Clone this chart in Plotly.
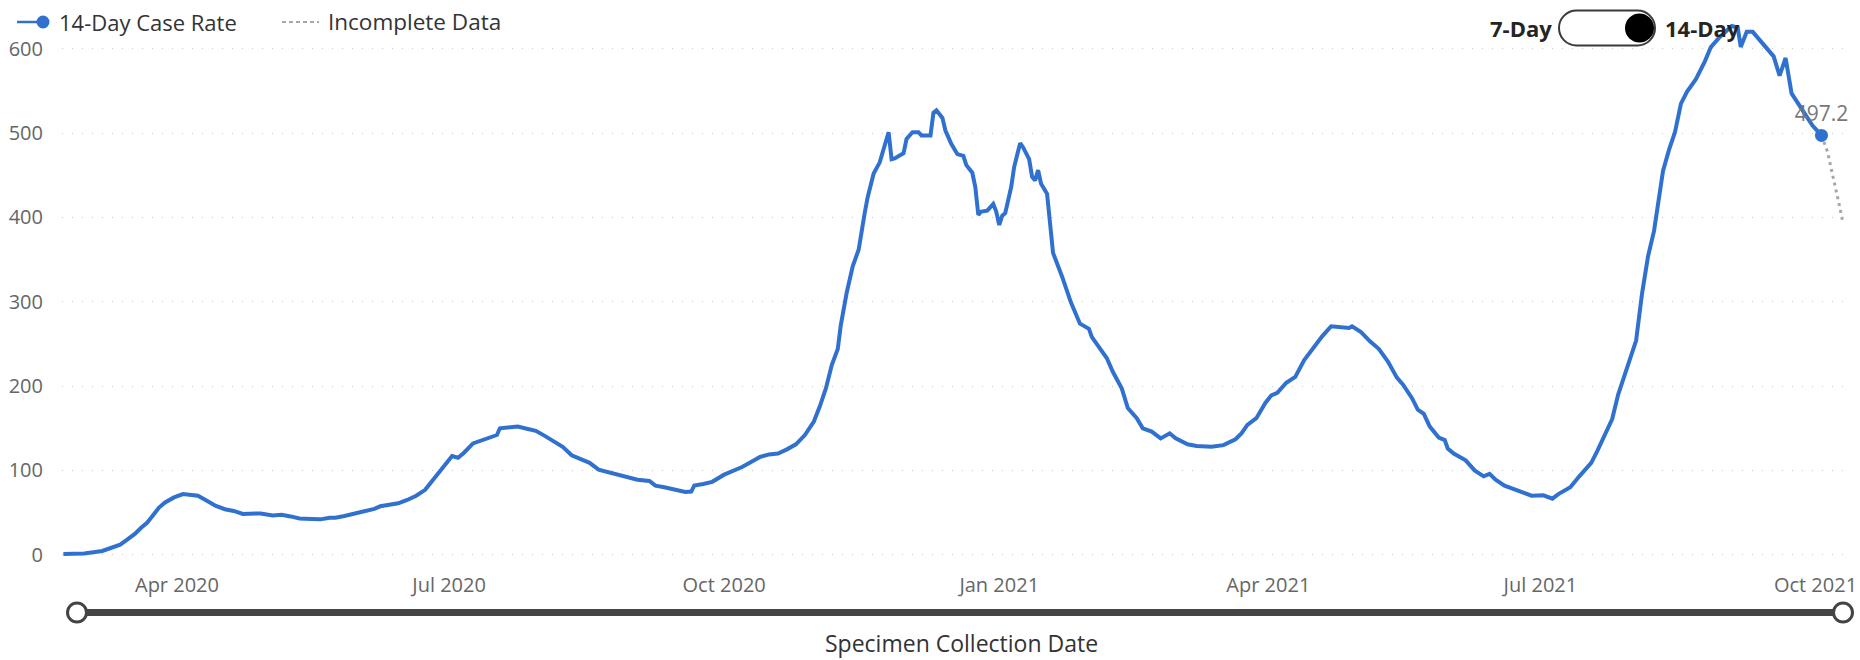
import plotly.graph_objects as go

# ---- 14-day case rate per 100k, by specimen collection date ----
dates = [
    "2020-02-23", "2020-03-01", "2020-03-07", "2020-03-10", "2020-03-13", "2020-03-15",
    "2020-03-18", "2020-03-20", "2020-03-22", "2020-03-24", "2020-03-26", "2020-03-28",
    "2020-03-31", "2020-04-03", "2020-04-06", "2020-04-08", "2020-04-11", "2020-04-14",
    "2020-04-17", "2020-04-20", "2020-04-23", "2020-04-26", "2020-04-29", "2020-05-03",
    "2020-05-06", "2020-05-09", "2020-05-12", "2020-05-16", "2020-05-19", "2020-05-22",
    "2020-05-24", "2020-05-27", "2020-05-31", "2020-06-03", "2020-06-06", "2020-06-08",
    "2020-06-11", "2020-06-14", "2020-06-17", "2020-06-20", "2020-06-23", "2020-06-26",
    "2020-06-29", "2020-07-02", "2020-07-04", "2020-07-06", "2020-07-09", "2020-07-12",
    "2020-07-15", "2020-07-17", "2020-07-18", "2020-07-21", "2020-07-24", "2020-07-27",
    "2020-07-30", "2020-08-02", "2020-08-05", "2020-08-08", "2020-08-11", "2020-08-14",
    "2020-08-17", "2020-08-20", "2020-08-24", "2020-08-29", "2020-09-02", "2020-09-06",
    "2020-09-08", "2020-09-11", "2020-09-14", "2020-09-18", "2020-09-20", "2020-09-21",
    "2020-09-24", "2020-09-27", "2020-10-01", "2020-10-04", "2020-10-07", "2020-10-10",
    "2020-10-13", "2020-10-16", "2020-10-19", "2020-10-22", "2020-10-25", "2020-10-28",
    "2020-10-31", "2020-11-02", "2020-11-04", "2020-11-06", "2020-11-08", "2020-11-09",
    "2020-11-11", "2020-11-13", "2020-11-15", "2020-11-17", "2020-11-18", "2020-11-20",
    "2020-11-22", "2020-11-25", "2020-11-26", "2020-11-27", "2020-11-30", "2020-12-01",
    "2020-12-03", "2020-12-05", "2020-12-06", "2020-12-09", "2020-12-10", "2020-12-11",
    "2020-12-13", "2020-12-14", "2020-12-16", "2020-12-18", "2020-12-20", "2020-12-21",
    "2020-12-23", "2020-12-24", "2020-12-25", "2020-12-26", "2020-12-28", "2020-12-30",
    "2020-12-31", "2021-01-01", "2021-01-02", "2021-01-03", "2021-01-04", "2021-01-05",
    "2021-01-06", "2021-01-08", "2021-01-09", "2021-01-11", "2021-01-12", "2021-01-13",
    "2021-01-14", "2021-01-15", "2021-01-17", "2021-01-18", "2021-01-19", "2021-01-22",
    "2021-01-23", "2021-01-25", "2021-01-28", "2021-01-31", "2021-02-01", "2021-02-04",
    "2021-02-06", "2021-02-08", "2021-02-11", "2021-02-13", "2021-02-16", "2021-02-18",
    "2021-02-21", "2021-02-24", "2021-02-27", "2021-03-01", "2021-03-05", "2021-03-08",
    "2021-03-13", "2021-03-17", "2021-03-21", "2021-03-23", "2021-03-25", "2021-03-28",
    "2021-03-31", "2021-04-02", "2021-04-04", "2021-04-07", "2021-04-10", "2021-04-13",
    "2021-04-16", "2021-04-19", "2021-04-22", "2021-04-25", "2021-04-28", "2021-04-29",
    "2021-05-02", "2021-05-05", "2021-05-08", "2021-05-11", "2021-05-14", "2021-05-16",
    "2021-05-19", "2021-05-21", "2021-05-23", "2021-05-25", "2021-05-28", "2021-05-30",
    "2021-05-31", "2021-06-02", "2021-06-06", "2021-06-09", "2021-06-12", "2021-06-14",
    "2021-06-16", "2021-06-19", "2021-06-24", "2021-06-28", "2021-07-02", "2021-07-05",
    "2021-07-07", "2021-07-11", "2021-07-14", "2021-07-18", "2021-07-20", "2021-07-23",
    "2021-07-25", "2021-07-27", "2021-07-29", "2021-08-02", "2021-08-04", "2021-08-06",
    "2021-08-08", "2021-08-11", "2021-08-13", "2021-08-15", "2021-08-17", "2021-08-19",
    "2021-08-22", "2021-08-25", "2021-08-27", "2021-08-30", "2021-09-03", "2021-09-05",
    "2021-09-06", "2021-09-08", "2021-09-10", "2021-09-13", "2021-09-15", "2021-09-17",
    "2021-09-19", "2021-09-21", "2021-09-23", "2021-09-27", "2021-09-30", "2021-10-03",
]
case_rate = [
    1, 1.5, 4.5, 8, 12, 17,
    25, 32, 38, 47, 56, 62,
    68, 72, 71.5, 70, 64, 58,
    54, 52, 48.5, 49, 49, 46.5,
    47.5, 45.5, 43, 42.5, 42, 44,
    44, 46, 49, 52, 54.5, 57.5,
    59, 61, 65, 70, 77, 90,
    104, 117, 115, 121, 132, 136,
    140, 142, 150, 151.5, 152, 149.5,
    147, 141, 134, 128, 118, 113,
    109, 101, 97, 92, 89, 87.5,
    82, 80, 78, 74.5, 75, 82,
    84, 86.5, 95, 99, 104, 110,
    116, 119, 120, 125, 131, 142,
    158, 176, 197, 225, 244, 272,
    311, 342, 362, 405, 424, 452,
    465, 501, 469, 470, 476, 493,
    501, 501, 497, 497, 524, 527,
    518, 503, 487, 475, 473, 462,
    453, 436, 403, 407, 408, 416,
    407, 391, 402, 405, 419, 436,
    460, 488, 483, 469, 448, 444,
    456, 440, 428, 393, 358, 330,
    319, 299, 274, 268, 258, 242,
    233, 217, 197, 174, 162, 150,
    146, 138, 144, 138, 131, 129,
    128, 130, 137, 144, 154, 162,
    180, 189, 192, 204, 211, 231,
    245, 259, 271, 270, 269, 271,
    264, 253, 244, 229, 210, 202,
    186, 172, 167, 152, 139, 136,
    126, 120, 112, 100, 93, 96,
    89, 82, 76, 70, 70.5, 66.5,
    72, 80, 93, 109, 123, 146,
    161, 190, 212, 254, 310, 354,
    384, 455, 480, 501, 535, 549,
    564, 585, 602, 614, 627, 625,
    602, 620, 620, 608, 600, 591,
    568, 589, 547, 526, 509, 497.2,
]

# most recent week, still being reported
incomplete_dates = ["2021-10-03", "2021-10-04", "2021-10-05", "2021-10-06",
                    "2021-10-07", "2021-10-08", "2021-10-09", "2021-10-10"]
incomplete_rate = [497.2, 488, 478, 462, 447, 430, 414, 397]

x_tick_dates = ["2020-04-01", "2020-07-01", "2020-10-01", "2021-01-01",
                "2021-04-01", "2021-07-01", "2021-10-01"]
x_tick_labels = ["Apr 2020", "Jul 2020", "Oct 2020", "Jan 2021",
                 "Apr 2021", "Jul 2021", "Oct 2021"]
y_ticks = [0, 100, 200, 300, 400, 500, 600]

BLUE = "#3071CF"
FONT = "Segoe UI, Open Sans, sans-serif"

W, H = 1860, 660
PL, PR, PT, PB = 62, 1852, 15, 559   # plot-area edges in pixels


def fx(px):
    return (px - PL) / (PR - PL)


def fy(py):
    return (PB - py) / (PB - PT)


fig = go.Figure()

fig.add_trace(go.Scatter(
    x=incomplete_dates, y=incomplete_rate, mode="lines",
    line=dict(color="#A6A6A6", width=3, dash="3px,4px"),
    showlegend=False, hoverinfo="skip",
))
fig.add_trace(go.Scatter(
    x=dates, y=case_rate, mode="lines",
    line=dict(color=BLUE, width=4), showlegend=False,
))
fig.add_trace(go.Scatter(
    x=[dates[-1]], y=[case_rate[-1]], mode="markers+text",
    marker=dict(color=BLUE, size=13),
    text=[f"{case_rate[-1]:.1f}"], textposition="top center",
    textfont=dict(family=FONT, size=21, color="#777777"),
    cliponaxis=False, showlegend=False,
))

shapes = []
annotations = []

# legend
shapes.append(dict(type="line", xref="paper", yref="paper",
                   x0=fx(17), x1=fx(40), y0=fy(22), y1=fy(22),
                   line=dict(color=BLUE, width=2.5)))
shapes.append(dict(type="circle", xref="paper", yref="paper",
                   x0=fx(36.5), x1=fx(49.5), y0=fy(15.5), y1=fy(28.5),
                   fillcolor=BLUE, line=dict(color=BLUE, width=0)))
annotations.append(dict(text="14-Day Case Rate", xref="paper", yref="paper",
                        x=fx(57), y=fy(22), xanchor="left", yanchor="middle",
                        showarrow=False, font=dict(family=FONT, size=22, color="#333333")))
shapes.append(dict(type="line", xref="paper", yref="paper",
                   x0=fx(282), x1=fx(319), y0=fy(22), y1=fy(22),
                   line=dict(color="#8C8C8C", width=1.5, dash="4px,3px")))
annotations.append(dict(text="Incomplete Data", xref="paper", yref="paper",
                        x=fx(326), y=fy(22), xanchor="left", yanchor="middle",
                        showarrow=False, font=dict(family=FONT, size=22.5, color="#333333")))

# 7-Day / 14-Day toggle
def pill_path(x0, x1, y0, y1):
    r = (y1 - y0) / 2
    k = 0.5523 * r
    pts = [
        ("M", [(x0 + r, y0)]),
        ("L", [(x1 - r, y0)]),
        ("C", [(x1 - r + k, y0), (x1, y0 + r - k), (x1, y0 + r)]),
        ("C", [(x1, y0 + r + k), (x1 - r + k, y1), (x1 - r, y1)]),
        ("L", [(x0 + r, y1)]),
        ("C", [(x0 + r - k, y1), (x0, y0 + r + k), (x0, y0 + r)]),
        ("C", [(x0, y0 + r - k), (x0 + r - k, y0), (x0 + r, y0)]),
    ]
    out = []
    for cmd, ps in pts:
        out.append(cmd + " ".join(f"{fx(a):.6f},{fy(b):.6f}" for a, b in ps))
    return " ".join(out) + " Z"


shapes.append(dict(type="path", xref="paper", yref="paper",
                   path=pill_path(1559, 1655, 10.5, 45.5),
                   fillcolor="white", line=dict(color="#3A3A3A", width=2)))
shapes.append(dict(type="circle", xref="paper", yref="paper",
                   x0=fx(1625), x1=fx(1654), y0=fy(13.5), y1=fy(42.5),
                   fillcolor="black", line=dict(color="black", width=0)))
annotations.append(dict(text="<b>7-Day</b>", xref="paper", yref="paper",
                        x=fx(1554), y=fy(28), xanchor="right", yanchor="middle",
                        showarrow=False, font=dict(family=FONT, size=22, color="#252423")))
annotations.append(dict(text="<b>14-Day</b>", xref="paper", yref="paper",
                        x=fx(1663), y=fy(28), xanchor="left", yanchor="middle",
                        showarrow=False, font=dict(family=FONT, size=22, color="#252423")))

# date range slider
shapes.append(dict(type="line", xref="paper", yref="paper",
                   x0=fx(77), x1=fx(1843), y0=fy(612.5), y1=fy(612.5),
                   line=dict(color="#454545", width=7)))
for cx in (77, 1843):
    shapes.append(dict(type="circle", xref="paper", yref="paper",
                       x0=fx(cx - 9.5), x1=fx(cx + 9.5), y0=fy(603), y1=fy(622),
                       fillcolor="white", line=dict(color="#444444", width=3)))

annotations.append(dict(text="Specimen Collection Date", xref="paper", yref="paper",
                        x=fx(961), y=fy(643), xanchor="center", yanchor="middle",
                        showarrow=False, font=dict(family=FONT, size=23, color="#333333")))

fig.update_layout(
    width=W, height=H,
    margin=dict(l=PL, r=W - PR, t=PT, b=H - PB, pad=0, autoexpand=False),
    paper_bgcolor="white", plot_bgcolor="white",
    font=dict(family=FONT),
    shapes=shapes, annotations=annotations,
    showlegend=False,
)
fig.update_xaxes(
    type="date", range=["2020-02-22 13:00", "2021-10-13 05:00"],
    tickvals=x_tick_dates, ticktext=x_tick_labels,
    ticks="outside", ticklen=8, tickcolor="rgba(0,0,0,0)",
    tickfont=dict(family=FONT, size=20, color="#666666"),
    showgrid=False, zeroline=False, showline=False, automargin=False,
)
fig.update_yaxes(
    range=[-5, 640], tickvals=y_ticks,
    ticks="outside", ticklen=14, tickcolor="rgba(0,0,0,0)",
    tickfont=dict(family=FONT, size=20, color="#666666"),
    showgrid=True, gridcolor="#C8C8C8", gridwidth=1, griddash="1px,9px",
    zeroline=False, showline=False, automargin=False,
)

fig.write_html("out.html")
